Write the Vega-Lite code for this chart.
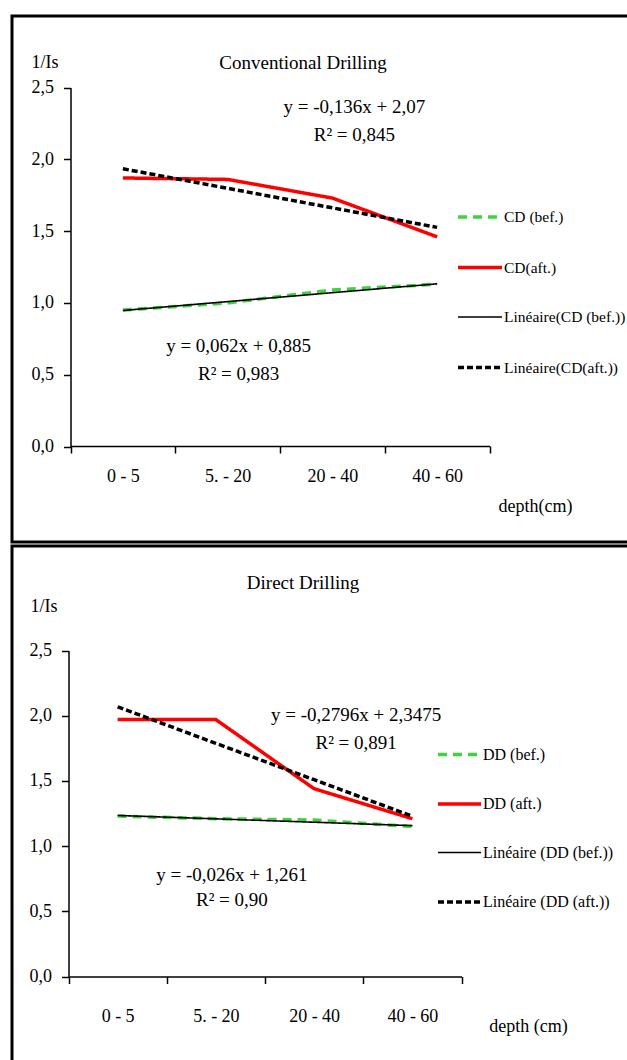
{
  "$schema": "https://vega.github.io/schema/vega-lite/v6.json",
  "background": "white",
  "padding": {"left": 10, "top": 14, "right": -6, "bottom": -6},
  "spacing": 0,
  "resolve": {
    "scale": {"color": "independent", "strokeDash": "independent", "strokeWidth": "independent"},
    "legend": {"color": "independent", "strokeDash": "independent", "strokeWidth": "independent"}
  },
  "config": {
    "font": "Liberation Serif",
    "view": {"stroke": "black", "strokeWidth": 3},
    "axis": {
      "grid": false,
      "domainColor": "black",
      "domainWidth": 1.5,
      "tickColor": "black",
      "tickWidth": 1.5,
      "tickSize": 7,
      "labelFont": "Liberation Serif",
      "labelFontSize": 18,
      "labelColor": "black",
      "titleFont": "Liberation Serif",
      "titleFontSize": 18,
      "titleFontWeight": "normal",
      "titleColor": "black"
    },
    "legend": {"labelFont": "Liberation Serif", "labelFontSize": 16, "labelColor": "black"},
    "title": {"font": "Liberation Serif", "fontSize": 19, "fontWeight": "normal", "color": "black"},
    "text": {"font": "Liberation Serif", "fontSize": 19, "color": "black", "align": "center", "baseline": "middle"}
  },
  "datasets": {
    "cd": [
      {"depth": "0 - 5", "series": "CD (bef.)", "v": 0.95},
      {"depth": "5. - 20", "series": "CD (bef.)", "v": 1.0},
      {"depth": "20 - 40", "series": "CD (bef.)", "v": 1.09},
      {"depth": "40 - 60", "series": "CD (bef.)", "v": 1.13},
      {"depth": "0 - 5", "series": "CD(aft.)", "v": 1.87},
      {"depth": "5. - 20", "series": "CD(aft.)", "v": 1.86},
      {"depth": "20 - 40", "series": "CD(aft.)", "v": 1.73},
      {"depth": "40 - 60", "series": "CD(aft.)", "v": 1.46},
      {"depth": "0 - 5", "series": "Linéaire(CD (bef.))", "v": 0.947},
      {"depth": "5. - 20", "series": "Linéaire(CD (bef.))", "v": 1.009},
      {"depth": "20 - 40", "series": "Linéaire(CD (bef.))", "v": 1.071},
      {"depth": "40 - 60", "series": "Linéaire(CD (bef.))", "v": 1.133},
      {"depth": "0 - 5", "series": "Linéaire(CD(aft.))", "v": 1.934},
      {"depth": "5. - 20", "series": "Linéaire(CD(aft.))", "v": 1.798},
      {"depth": "20 - 40", "series": "Linéaire(CD(aft.))", "v": 1.662},
      {"depth": "40 - 60", "series": "Linéaire(CD(aft.))", "v": 1.526}
    ],
    "dd": [
      {"depth": "0 - 5", "series": "DD (bef.)", "v": 1.23},
      {"depth": "5. - 20", "series": "DD (bef.)", "v": 1.21},
      {"depth": "20 - 40", "series": "DD (bef.)", "v": 1.2},
      {"depth": "40 - 60", "series": "DD (bef.)", "v": 1.15},
      {"depth": "0 - 5", "series": "DD (aft.)", "v": 1.97},
      {"depth": "5. - 20", "series": "DD (aft.)", "v": 1.97},
      {"depth": "20 - 40", "series": "DD (aft.)", "v": 1.44},
      {"depth": "40 - 60", "series": "DD (aft.)", "v": 1.21},
      {"depth": "0 - 5", "series": "Linéaire (DD (bef.))", "v": 1.235},
      {"depth": "5. - 20", "series": "Linéaire (DD (bef.))", "v": 1.209},
      {"depth": "20 - 40", "series": "Linéaire (DD (bef.))", "v": 1.183},
      {"depth": "40 - 60", "series": "Linéaire (DD (bef.))", "v": 1.157},
      {"depth": "0 - 5", "series": "Linéaire (DD (aft.))", "v": 2.068},
      {"depth": "5. - 20", "series": "Linéaire (DD (aft.))", "v": 1.788},
      {"depth": "20 - 40", "series": "Linéaire (DD (aft.))", "v": 1.509},
      {"depth": "40 - 60", "series": "Linéaire (DD (aft.))", "v": 1.229}
    ],
    "cdFitAft": [
      {"depth": "20 - 40", "v": 2.361, "label": "y = -0,136x + 2,07"},
      {"depth": "20 - 40", "v": 2.166, "label": "R² = 0,845"}
    ],
    "cdFitBef": [
      {"depth": "5. - 20", "v": 0.703, "label": "y = 0,062x + 0,885"},
      {"depth": "5. - 20", "v": 0.508, "label": "R² = 0,983"}
    ],
    "ddFitAft": [
      {"depth": "20 - 40", "v": 2.009, "label": "y = -0,2796x + 2,3475"},
      {"depth": "20 - 40", "v": 1.787, "label": "R² = 0,891"}
    ],
    "ddFitBef": [
      {"depth": "5. - 20", "v": 0.782, "label": "y = -0,026x + 1,261"},
      {"depth": "5. - 20", "v": 0.59, "label": "R² = 0,90"}
    ]
  },
  "vconcat": [
    {
      "width": 620,
      "height": 526,
      "title": {"text": "Conventional Drilling", "anchor": "middle", "dx": -19, "offset": -57},
      "encoding": {
        "x": {
          "field": "depth",
          "type": "ordinal",
          "bandPosition": 0.5,
          "scale": {"type": "band", "domain": ["0 - 5", "5. - 20", "20 - 40", "40 - 60"], "range": [58.5, 477.5], "paddingInner": 0, "paddingOuter": 0},
          "axis": {"orient": "bottom", "offset": -96, "tickBand": "extent", "labelAngle": 0, "labelPadding": 14, "title": "depth(cm)", "titleX": 523, "titleY": 60, "titleAlign": "center", "titleBaseline": "middle"}
        },
        "y": {
          "field": "v",
          "type": "quantitative",
          "scale": {"domain": [0, 2.5], "range": [430.5, 71.5], "nice": false},
          "axis": {"orient": "left", "offset": -58.5, "values": [0, 0.5, 1, 1.5, 2, 2.5], "labelExpr": "replace(format(datum.value, '.1f'), '.', ',')", "labelPadding": 10, "title": "1/Is", "titleAngle": 0, "titleX": -26, "titleY": 46, "titleAlign": "center", "titleBaseline": "middle"}
        }
      },
      "layer": [
        {
          "data": {"name": "cd"},
          "encoding": {
            "color": {"field": "series", "type": "nominal", "scale": {"domain": ["CD (bef.)", "CD(aft.)", "Linéaire(CD (bef.))", "Linéaire(CD(aft.))"], "range": ["#3fd43f", "#ff0000", "#000000", "#000000"]},
              "legend": {"title": null, "orient": "none", "legendX": 444, "legendY": 177, "symbolType": "stroke", "symbolSize": 1936, "labelOffset": 0, "rowPadding": 17.5, "labelLimit": 300, "labelFont": "Liberation Serif", "labelFontSize": 15.5}},
            "strokeDash": {"field": "series", "type": "nominal", "scale": {"domain": ["CD (bef.)", "CD(aft.)", "Linéaire(CD (bef.))", "Linéaire(CD(aft.))"], "range": [[9, 6], [1, 0], [1, 0], [6, 3]]},
              "legend": {"title": null, "orient": "none", "legendX": 444, "legendY": 177, "symbolType": "stroke", "symbolSize": 1936, "labelOffset": 0, "rowPadding": 17.5, "labelLimit": 300, "labelFont": "Liberation Serif", "labelFontSize": 15.5}},
            "strokeWidth": {"field": "series", "type": "nominal", "scale": {"type": "ordinal", "domain": ["CD (bef.)", "CD(aft.)", "Linéaire(CD (bef.))", "Linéaire(CD(aft.))"], "range": [3.5, 3.5, 1.6, 3.5]},
              "legend": {"title": null, "orient": "none", "legendX": 444, "legendY": 177, "symbolType": "stroke", "symbolSize": 1936, "labelOffset": 0, "rowPadding": 17.5, "labelLimit": 300, "labelFont": "Liberation Serif", "labelFontSize": 15.5}}
          },
          "layer": [
            {"transform": [{"filter": "datum.series === 'CD (bef.)'"}], "mark": {"type": "line"}},
            {"transform": [{"filter": "datum.series === 'CD(aft.)'"}], "mark": {"type": "line"}},
            {"transform": [{"filter": "datum.series === 'Linéaire(CD (bef.))'"}], "mark": {"type": "line"}},
            {"transform": [{"filter": "datum.series === 'Linéaire(CD(aft.))'"}], "mark": {"type": "line"}}
          ]
        },
        {
          "data": {"name": "cdFitAft"},
          "mark": {"type": "text", "dx": 22},
          "encoding": {"text": {"field": "label"}}
        },
        {
          "data": {"name": "cdFitBef"},
          "mark": {"type": "text", "dx": 11},
          "encoding": {"text": {"field": "label"}}
        }
      ]
    },
    {
      "width": 620,
      "height": 520,
      "title": {"text": "Direct Drilling", "anchor": "middle", "dx": -19, "offset": -47},
      "encoding": {
        "x": {
          "field": "depth",
          "type": "ordinal",
          "bandPosition": 0.5,
          "scale": {"type": "band", "domain": ["0 - 5", "5. - 20", "20 - 40", "40 - 60"], "range": [56.5, 449.5], "paddingInner": 0, "paddingOuter": 0},
          "axis": {"orient": "bottom", "offset": -89.5, "tickBand": "extent", "labelAngle": 0, "labelPadding": 24, "title": "depth (cm)", "titleX": 516, "titleY": 50, "titleAlign": "center", "titleBaseline": "middle"}
        },
        "y": {
          "field": "v",
          "type": "quantitative",
          "scale": {"domain": [0, 2.5], "range": [430.5, 104.5], "nice": false},
          "axis": {"orient": "left", "offset": -56.5, "values": [0, 0.5, 1, 1.5, 2, 2.5], "labelExpr": "replace(format(datum.value, '.1f'), '.', ',')", "labelPadding": 10, "title": "1/Is", "titleAngle": 0, "titleX": -25, "titleY": 60, "titleAlign": "center", "titleBaseline": "middle"}
        }
      },
      "layer": [
        {
          "data": {"name": "dd"},
          "encoding": {
            "color": {"field": "series", "type": "nominal", "scale": {"domain": ["DD (bef.)", "DD (aft.)", "Linéaire (DD (bef.))", "Linéaire (DD (aft.))"], "range": ["#3fd43f", "#ff0000", "#000000", "#000000"]},
              "legend": {"title": null, "orient": "none", "legendX": 424, "legendY": 185, "symbolType": "stroke", "symbolSize": 1849, "labelOffset": 0, "rowPadding": 17.5, "labelLimit": 300, "labelFont": "Liberation Serif", "labelFontSize": 16}},
            "strokeDash": {"field": "series", "type": "nominal", "scale": {"domain": ["DD (bef.)", "DD (aft.)", "Linéaire (DD (bef.))", "Linéaire (DD (aft.))"], "range": [[9, 6], [1, 0], [1, 0], [6, 3]]},
              "legend": {"title": null, "orient": "none", "legendX": 424, "legendY": 185, "symbolType": "stroke", "symbolSize": 1849, "labelOffset": 0, "rowPadding": 17.5, "labelLimit": 300, "labelFont": "Liberation Serif", "labelFontSize": 16}},
            "strokeWidth": {"field": "series", "type": "nominal", "scale": {"type": "ordinal", "domain": ["DD (bef.)", "DD (aft.)", "Linéaire (DD (bef.))", "Linéaire (DD (aft.))"], "range": [3.5, 3.5, 1.6, 3.5]},
              "legend": {"title": null, "orient": "none", "legendX": 424, "legendY": 185, "symbolType": "stroke", "symbolSize": 1849, "labelOffset": 0, "rowPadding": 17.5, "labelLimit": 300, "labelFont": "Liberation Serif", "labelFontSize": 16}}
          },
          "layer": [
            {"transform": [{"filter": "datum.series === 'DD (bef.)'"}], "mark": {"type": "line"}},
            {"transform": [{"filter": "datum.series === 'DD (aft.)'"}], "mark": {"type": "line"}},
            {"transform": [{"filter": "datum.series === 'Linéaire (DD (bef.))'"}], "mark": {"type": "line"}},
            {"transform": [{"filter": "datum.series === 'Linéaire (DD (aft.))'"}], "mark": {"type": "line"}}
          ]
        },
        {
          "data": {"name": "ddFitAft"},
          "mark": {"type": "text", "dx": 42},
          "encoding": {"text": {"field": "label"}}
        },
        {
          "data": {"name": "ddFitBef"},
          "mark": {"type": "text", "dx": 16},
          "encoding": {"text": {"field": "label"}}
        }
      ]
    }
  ]
}
